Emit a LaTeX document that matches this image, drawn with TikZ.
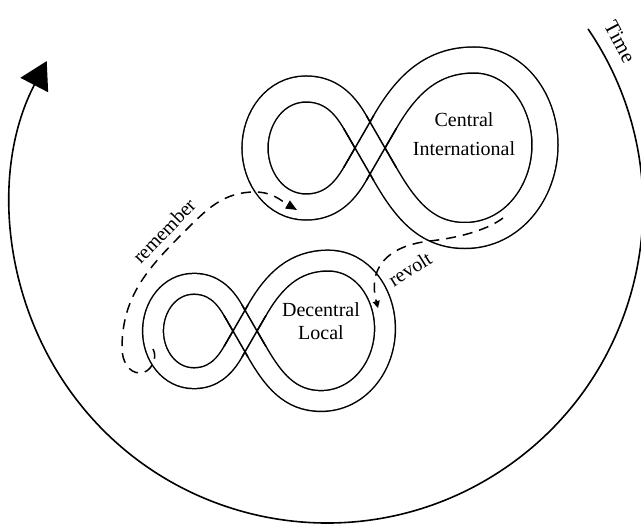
\documentclass[tikz,border=0pt]{standalone}
\usepackage{fontspec}
\setmainfont{Liberation Serif}
\usetikzlibrary{arrows.meta}
\newcommand\infig[3]{%
  \begin{scope}[shift={#1}, scale=#2]
    \draw[band, double distance=#3] (0,0) -- (15,26)
      to[out=60,in=180] (104,88) to[out=0,in=90] (175,3)
      to[out=-90,in=0] (95,-87.5) to[out=180,in=-60] (15,-26)
      -- (-15,26) to[out=120,in=0] (-64,59) to[out=180,in=90] (-115,0)
      to[out=-90,in=180] (-64,-59) to[out=0,in=240] (-15,-26) -- cycle;
    \draw[bandedge] (-26.26,-19.5) -- (3.74,32.5);
    \draw[bandedge] (-3.74,-32.5) -- (26.26,19.5);
    \draw[bandedge] (26.26,-19.5) -- (-3.74,32.5);
    \draw[bandedge] (3.74,-32.5) -- (-26.26,19.5);
  \end{scope}}
\begin{document}
\begin{tikzpicture}[x=1pt,y=1pt,
  band/.style={draw=black, line width=1.5pt, double=white},
  bandedge/.style={line width=1.5pt},
  rim/.style={line width=1.6pt},
  dashy/.style={line width=1.5pt, dash pattern=on 10pt off 7pt},
  lbl/.style={font=\fontsize{20}{24}\selectfont, inner sep=0pt}]
\useasboundingbox (0,0) rectangle (641,-524);
% time circle
\coordinate (cc) at (327,-207);
\draw[rim, -{Triangle[length=27pt,width=31pt]}] (cc) ++(34.3:316)
  arc[start angle=34.3, end angle=-207.5, radius=316];
\node[lbl, rotate=-62, font=\fontsize{21}{25}\selectfont] (time) at (620,-42) {Time};
% figure eights
\infig{(370,-148)}{1}{24.5pt}
\infig{(245,-331)}{0.8}{19.3pt}
\node[lbl, align=center, font=\fontsize{20}{29}\selectfont] (central) at (464,-134) {Central\\International};
\node[lbl, align=center, font=\fontsize{20}{23}\selectfont] (decentral) at (321,-321) {Decentral\\Local};
% remember
\coordinate (remA) at (153,-349);
\coordinate (remB) at (297,-210);
\draw[dashy, -{Triangle[length=11pt,width=9pt]}] (remA) to[out=-60,in=0] (140,-373)
  to[out=180,in=-90] (122,-348) to[out=90,in=225] (185,-231)
  to[out=45,in=180] (255,-192) to[out=0,in=150] (remB);
\node[lbl, rotate=46] (remember) at (164,-231) {remember};
% revolt
\coordinate (revA) at (503,-218);
\coordinate (revB) at (378,-308);
\draw[dashy, -{Triangle[length=7pt,width=7pt]}] (revA) .. controls (490,-228) and (465,-237) .. (430,-241)
  .. controls (385,-246) and (368,-270) .. (revB);
\node[lbl, rotate=32] (revolt) at (410,-269) {revolt};
\end{tikzpicture}
\end{document}
